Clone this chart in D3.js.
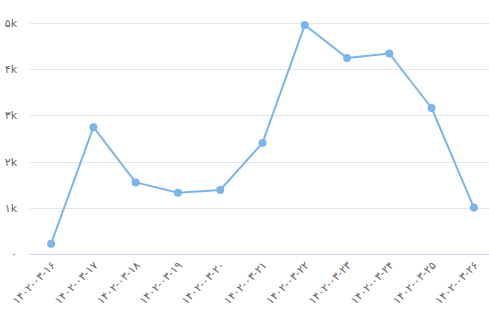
<!DOCTYPE html>
<html>
<head>
<meta charset="utf-8">
<style>
  body { margin: 0; background: #fff; }
  svg { display: block; font-family: "DejaVu Sans", sans-serif; }
</style>
</head>
<body>
<svg id="viz"></svg>
<script src="https://cdn.jsdelivr.net/npm/d3@7/dist/d3.min.js"></script>
<script>
var width = 489;
var height = 325;

// persian dates on the x axis
var dates = ["۱۴۰۲-۰۳-۱۶", "۱۴۰۲-۰۳-۱۷", "۱۴۰۲-۰۳-۱۸", "۱۴۰۲-۰۳-۱۹", "۱۴۰۲-۰۳-۲۰",
             "۱۴۰۲-۰۳-۲۱", "۱۴۰۲-۰۳-۲۲", "۱۴۰۲-۰۳-۲۳", "۱۴۰۲-۰۳-۲۴", "۱۴۰۲-۰۳-۲۵", "۱۴۰۲-۰۳-۲۶"];
var values = [224, 2745, 1550, 1325, 1385, 2405, 4955, 4245, 4340, 3160, 1005];
var yTicks = [0, 1000, 2000, 3000, 4000, 5000];
var yTickLabels = ["۰", "۱k", "۲k", "۳k", "۴k", "۵k"];

var margin = {top: 23, left: 30, bottom: 71};

var svg = d3.select("#viz").attr("width", width).attr("height", height);

var x = d3.scaleBand()
  .domain(dates)
  .range([margin.left, 495]);

var y = d3.scaleLinear()
  .domain([0, 5000])
  .range([height - margin.bottom, margin.top]);

// grid lines
svg.append("g").selectAll("line")
  .data(yTicks.slice(1))
  .enter().append("line")
  .attr("x1", margin.left).attr("x2", 495)
  .attr("y1", function(d) { return Math.round(y(d)) + 0.5; })
  .attr("y2", function(d) { return Math.round(y(d)) + 0.5; })
  .attr("stroke", "#e6e6e6")
  .attr("stroke-width", 1);

// baseline
svg.append("line")
  .attr("x1", margin.left).attr("x2", 495)
  .attr("y1", Math.round(y(0)) + 0.5).attr("y2", Math.round(y(0)) + 0.5)
  .attr("stroke", "#ccd6eb");

// y labels
svg.append("g").selectAll("text")
  .data(yTicks)
  .enter().append("text")
  .attr("x", 17)
  .attr("y", function(d) { return y(d) + 4; })
  .attr("text-anchor", "end")
  .attr("fill", "#666")
  .style("font-size", "11px")
  .text(function(d, i) { return yTickLabels[i]; });

// x labels, rotated
svg.append("g").selectAll("text")
  .data(dates)
  .enter().append("text")
  .attr("transform", function(d) {
    return "translate(" + (x(d) + x.bandwidth() / 2 + 5) + "," + (height - margin.bottom + 12) + ") rotate(-45)";
  })
  .attr("text-anchor", "end")
  .attr("fill", "#666")
  .style("font-size", "11px")
  .text(function(d) { return d; });

var line = d3.line()
  .x(function(d, i) { return x(dates[i]) + x.bandwidth() / 2; })
  .y(function(d) { return y(d); });

svg.append("path")
  .datum(values)
  .attr("d", line)
  .attr("fill", "none")
  .attr("stroke", "#7cb5ec")
  .attr("stroke-width", 2)
  .attr("stroke-linejoin", "round");

svg.append("g").selectAll("circle")
  .data(values)
  .enter().append("circle")
  .attr("cx", function(d, i) { return x(dates[i]) + x.bandwidth() / 2; })
  .attr("cy", function(d) { return y(d); })
  .attr("r", 4)
  .attr("fill", "#7cb5ec");
</script>
</body>
</html>
